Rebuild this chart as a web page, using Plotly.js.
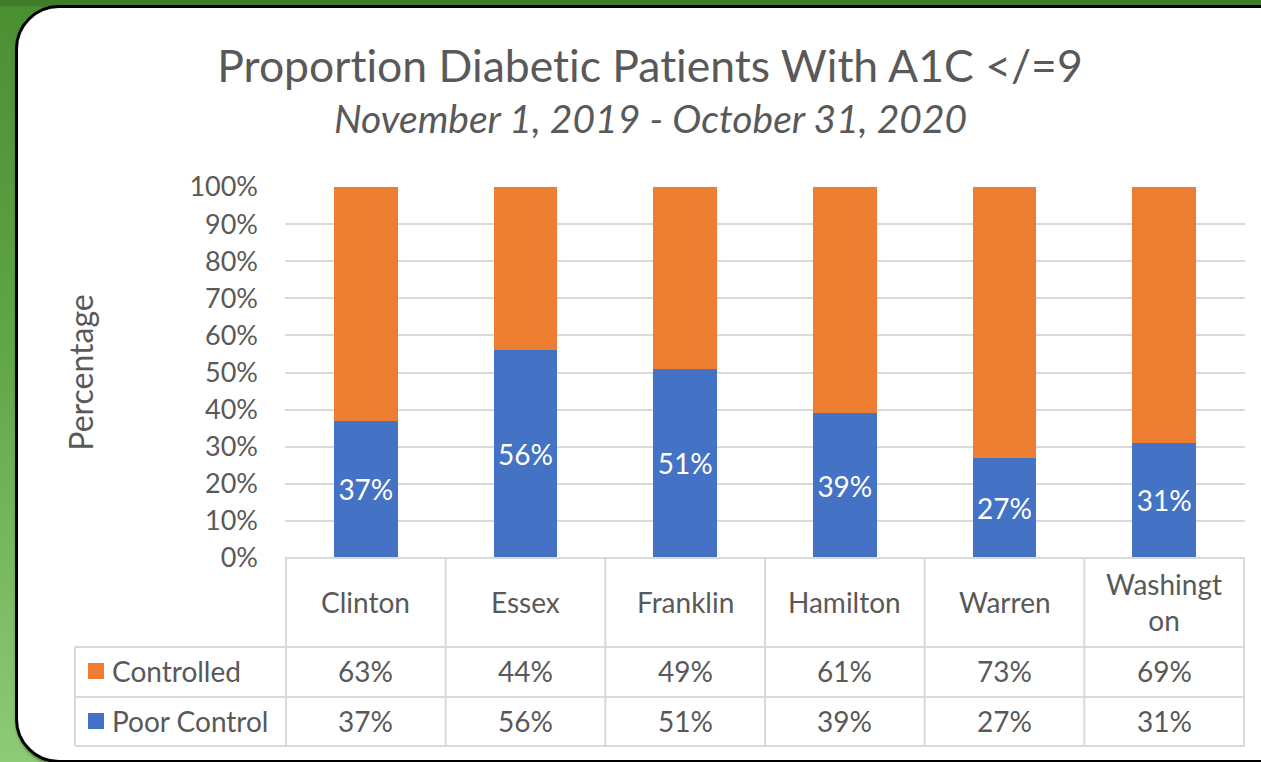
<!DOCTYPE html>
<html><head><meta charset="utf-8">
<script src="https://cdn.plot.ly/plotly-3.0.1.min.js"></script>
<style>
html,body{margin:0;padding:0;width:1261px;height:762px;overflow:hidden;}
#bg{position:absolute;left:0;top:0;width:1261px;height:762px;background:linear-gradient(to bottom,#3f7d2a 0px,#3f7d2a 6px,#4b8f33 7px,#5fa646 45%,#8ecb77 100%);}
#card{position:absolute;left:15px;top:5px;width:1300px;height:752px;background:#fff;border:3px solid #000;border-radius:44px;box-shadow:1px 2px 3px rgba(0,0,0,0.5);}
#chart{position:absolute;left:0;top:0;width:1261px;height:762px;}
svg text{font-variant-ligatures:none;font-feature-settings:"liga" 0;}
</style>
</head><body>
<div id="bg"></div><div id="card"></div><div id="chart"></div>
<script>
// ---- data ----
const categories = ['Clinton','Essex','Franklin','Hamilton','Warren','Washington'];
const categoryLabels = ['Clinton','Essex','Franklin','Hamilton','Warren','Washingt<br>on'];
const seriesNames = ['Controlled','Poor Control'];
const controlled = [63,44,49,61,73,69];
const poorControl = [37,56,51,39,27,31];
const colors = {controlled:'#ED7D31', poor:'#4472C4'};
const titleText = 'Proportion Diabetic Patients With A1C &lt;/=9';
const subtitleText = 'November 1, 2019 - October 31, 2020';
const yTitle = 'Percentage';

// ---- layout helpers (pixel -> paper) ----
const W=1261,H=762,ML=285,MR=16,MT=187,MB=204;
const PH=H-MT-MB, PW=W-ML-MR;
const py = p => (H-MB-p)/PH;
const pxp = p => (p-ML)/PW;
const FONT = 'Lato, "Open Sans", sans-serif';
const TXT = '#595959';
const GRID = '#d9d9d9';
const fs = 28;

const traces = [
  {type:'bar', name:seriesNames[1], x:categories, y:poorControl, marker:{color:colors.poor},
   text:poorControl.map(v=>v+'%'), textposition:'inside', insidetextanchor:'middle',
   textfont:{color:'#ffffff', size:fs, family:FONT}, constraintext:'none', hoverinfo:'skip'},
  {type:'bar', name:seriesNames[0], x:categories, y:controlled, marker:{color:colors.controlled},
   hoverinfo:'skip', textposition:'none'}
];

const shapes = [];
const line = (x0,y0,x1,y1,xref) => shapes.push({type:'line', xref:xref||'paper', yref:'paper',
   x0:x0, x1:x1, y0:y0, y1:y1, line:{color:GRID, width:2}, layer:'above'});
// horizontal table lines
[647,697,746].forEach(y => line(pxp(75), py(y), 1, py(y)));
line(0, py(558), 1, py(558));
// vertical lines at category boundaries
for (let i=0;i<=categories.length;i++) line(i-0.5, py(558), i-0.5, py(746), 'x');
line(pxp(75), py(647), pxp(75), py(746));
// legend keys
const keyColors = [colors.controlled, colors.poor];
const rowY = [671, 721];
keyColors.forEach((c,i)=>shapes.push({type:'rect', xref:'paper', yref:'paper',
  x0:pxp(88), x1:pxp(104), y0:py(rowY[i]-8), y1:py(rowY[i]+8), fillcolor:c, line:{width:0}}));

const annotations = [];
const tf = {family:FONT, size:fs, color:TXT};
categories.forEach((c,i)=>{
  annotations.push({xref:'x', yref:'paper', x:c, y:py(602), text:categoryLabels[i], showarrow:false,
    font:tf, xanchor:'center', yanchor:'middle'});
  annotations.push({xref:'x', yref:'paper', x:c, y:py(rowY[0]), text:controlled[i]+'%', showarrow:false,
    font:tf, xanchor:'center', yanchor:'middle'});
  annotations.push({xref:'x', yref:'paper', x:c, y:py(rowY[1]), text:poorControl[i]+'%', showarrow:false,
    font:tf, xanchor:'center', yanchor:'middle'});
});
seriesNames.forEach((n,i)=>annotations.push({xref:'paper', yref:'paper', x:pxp(110), y:py(rowY[i]),
  text:n, showarrow:false, font:tf, xanchor:'left', yanchor:'middle'}));
annotations.push({xref:'paper', yref:'paper', x:pxp(650), y:py(118), text:'<i>'+subtitleText+'</i>',
  showarrow:false, font:{family:FONT, size:39, color:TXT}, xanchor:'center', yanchor:'middle'});

const layout = {
  width:W, height:H, margin:{l:ML, r:MR, t:MT, b:MB, pad:0},
  paper_bgcolor:'rgba(0,0,0,0)', plot_bgcolor:'rgba(0,0,0,0)',
  barmode:'stack', bargap:0.6, showlegend:false,
  font:{family:FONT, color:TXT},
  title:{text:titleText, font:{family:FONT, size:44.5, color:TXT}, x:650/W, xanchor:'center',
    y:1-66/H, yanchor:'middle', xref:'container', yref:'container'},
  xaxis:{type:'category', showticklabels:false, showgrid:false, zeroline:false, showline:false, fixedrange:true},
  yaxis:{range:[0,100], dtick:10, ticksuffix:'%', showgrid:true, gridcolor:GRID, gridwidth:2,
    zeroline:false, showline:false, ticks:'', ticklabelstandoff:26,
    tickfont:{family:FONT, size:27, color:TXT},
    title:{text:yTitle, font:{family:FONT, size:32, color:TXT}, standoff:86}, automargin:true, fixedrange:true},
  shapes:shapes, annotations:annotations
};
Plotly.newPlot('chart', traces, layout, {displayModeBar:false, staticPlot:true});
</script>
</body></html>
